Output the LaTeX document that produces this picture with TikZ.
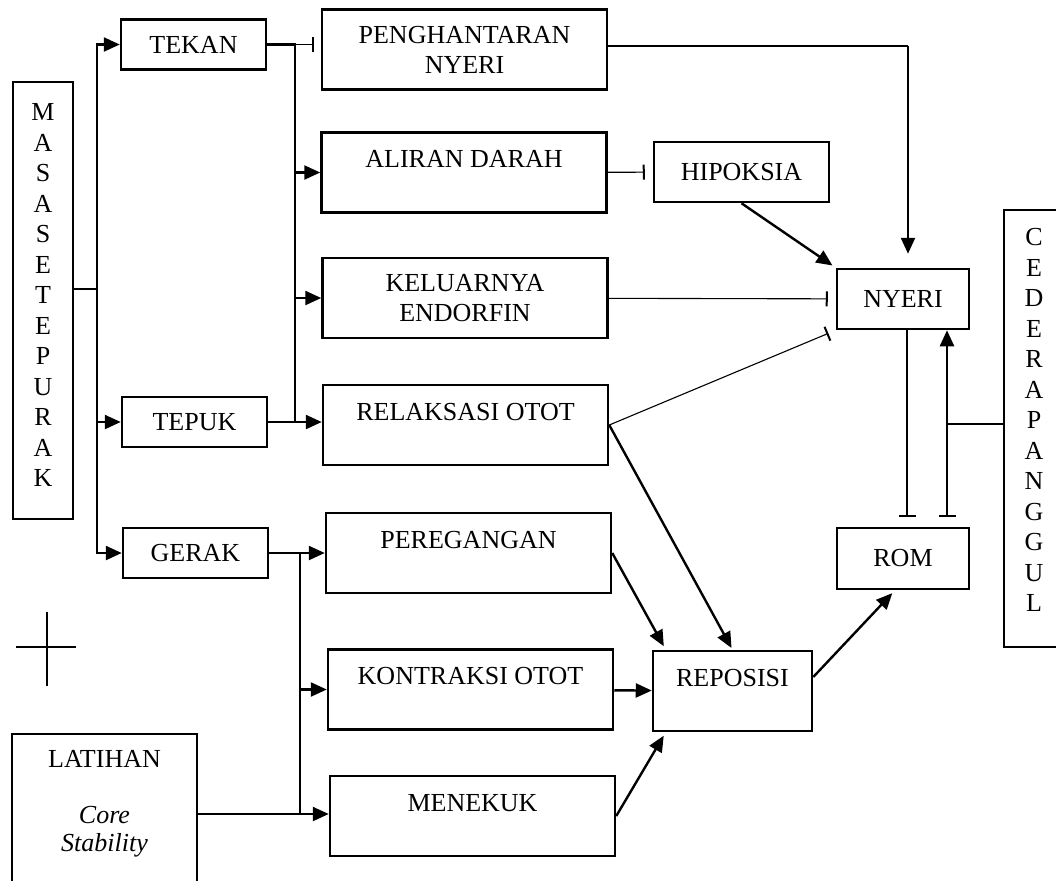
\documentclass[tikz,border=0pt]{standalone}
\usepackage{fontspec}
\setmainfont{Liberation Serif}
\usepackage{tikz}
\usetikzlibrary{arrows.meta, positioning}
\tikzstyle{box}=[rectangle, draw, line width=1.25pt, align=center, inner sep=0pt, font=\fontsize{13}{15}\selectfont]
\tikzstyle{col}=[box, minimum width=30pt, minimum height=218.5pt, font=\fontsize{13}{15.25}\selectfont]
\tikzstyle{small}=[box, minimum width=72.5pt, minimum height=25pt]
\tikzstyle{big}=[box, minimum width=142.5pt, minimum height=40pt]
\tikzstyle{lite}=[line width=0.55pt]
\tikzstyle{bus}=[line width=1.2pt]
\tikzstyle{arr}=[bus, -{Triangle[length=8pt, width=7pt]}]
\tikzstyle{inh}=[lite, -{Bar[width=7.5pt, line width=1pt]}]

\begin{document}
\begin{tikzpicture}[x=0.5pt, y=-0.5pt]
      \useasboundingbox (0,0) rectangle (1056,880);

      \node[col] (masa) at (43,300.5) {M\\A\\S\\A\\S\\E\\T\\E\\P\\U\\R\\A\\K\\[-10pt]\mbox{}};
      \node[small] (tekan) at (193.5,44.5) {TEKAN};
      \node[small] (tepuk) at (194.5,422) {TEPUK};
      \node[small] (gerak) at (195.5,553) {GERAK};
      \node[box, minimum width=92.5pt, minimum height=85.5pt,
            font=\fontsize{13}{14}\selectfont] (latihan) at (104.5,819.5)
            {LATIHAN\\\strut\\\textit{Core}\\\textit{Stability}\\\strut};

      \node[big] (penghantaran) at (464.5,49.5) {PENGHANTARAN\\NYERI};
      \node[big] (aliran) at (464,172.5) {ALIRAN DARAH\\[-1.5pt]\mbox{}};
      \node[big] (keluarnya) at (465,298) {KELUARNYA\\ENDORFIN};
      \node[big] (relaksasi) at (465.5,425) {RELAKSASI OTOT\\[-1.5pt]\mbox{}};
      \node[big] (peregangan) at (468.5,553) {PEREGANGAN\\[-1.5pt]\mbox{}};
      \node[big] (kontraksi) at (470.5,689.5) {KONTRAKSI OTOT\\[-1.5pt]\mbox{}};
      \node[big] (menekuk) at (472.5,816) {MENEKUK\\[-1.5pt]\mbox{}};

      \node[box, minimum width=87.5pt, minimum height=30pt] (hipoksia) at (741.5,172) {HIPOKSIA};
      \node[box, minimum width=66pt, minimum height=30pt] (nyeri) at (903,299) {NYERI};
      \node[box, minimum width=66pt, minimum height=30.5pt] (rom) at (903,558.5) {ROM};
      \node[box, minimum width=79.5pt, minimum height=40pt] (reposisi) at (732.5,691) {REPOSISI\\[-1.5pt]\mbox{}};
      \node[col] (cedera) at (1034,428.5) {C\\E\\D\\E\\R\\A\\P\\A\\N\\G\\G\\U\\L\\[-7pt]\mbox{}};

      \coordinate (mb) at (97,289);
      \draw[bus] (mb -| masa.east) -- (mb);
      \draw[arr] (mb) |- (tekan);
      \draw[arr] (mb) |- (tepuk);
      \draw[arr] (mb) |- (gerak);

      \coordinate (tb) at (295,44.5);
      \draw[bus] (tekan) -- (tb) -- (tb |- tepuk);
      \draw[inh, shorten >=3.5pt] (tb) -- (penghantaran.west |- tb);
      \draw[arr] (tb) |- (aliran);
      \draw[arr] (tb) |- (keluarnya);
      \draw[arr] (tb |- tepuk) -- (relaksasi.west |- tepuk);
      \draw[lite] (tepuk) -- (tb |- tepuk);

      \coordinate (gb) at (300,553);
      \coordinate (lb) at (300,814);
      \draw[bus] (gerak) -- (gb) -- (lb);
      \draw[arr] (gb) -- (peregangan);
      \draw[arr] (gb) |- (kontraksi);
      \draw[arr] (lb) -- (menekuk.west |- lb);
      \draw[lite] (latihan.east |- lb) -- (lb);

      \coordinate (pn) at (908,46);
      \draw[lite] (penghantaran.east |- pn) -- (pn);
      \draw[arr, shorten >=7pt] (pn) -- (pn |- nyeri.north);
      \draw[inh, shorten >=4pt] (aliran) -- (hipoksia);
      \draw[arr, shorten >=2pt] (hipoksia.south) -- (nyeri.north west);
      \draw[inh, shorten >=4pt] (keluarnya) -- (nyeri);
      \draw[inh, shorten >=4pt] (relaksasi.east) -- (nyeri.south west);

      \draw[arr, shorten >=1pt] (relaksasi.east) -- (reposisi.north);
      \draw[arr, shorten >=2pt] (peregangan.east) -- ([xshift=7pt]reposisi.north west);
      \draw[arr] (kontraksi) -- (reposisi);
      \draw[arr, shorten >=2pt] (menekuk.east) -- ([xshift=7pt]reposisi.south west);
      \draw[arr, shorten >=2pt] ([yshift=7pt]reposisi.east) -- ([xshift=-4pt]rom.south);

      \draw[lite, -{Bar[width=8.5pt, line width=1pt]}, shorten >=5pt]
            ([xshift=2pt]nyeri.south) -- ([xshift=2pt]rom.north);
      \draw[arr, {Bar[width=8.5pt, line width=1pt]}-{Triangle[length=8pt, width=7pt]}, shorten <=5pt]
            ([xshift=22pt]rom.north) -- ([xshift=22pt]nyeri.south);
      \coordinate (cb) at (947,424);
      \draw[lite] (cedera.west |- cb) -- (cb);

      \draw[lite] (47,612) -- (47,686) (16,647) -- (76,647);
\end{tikzpicture}
\end{document}
